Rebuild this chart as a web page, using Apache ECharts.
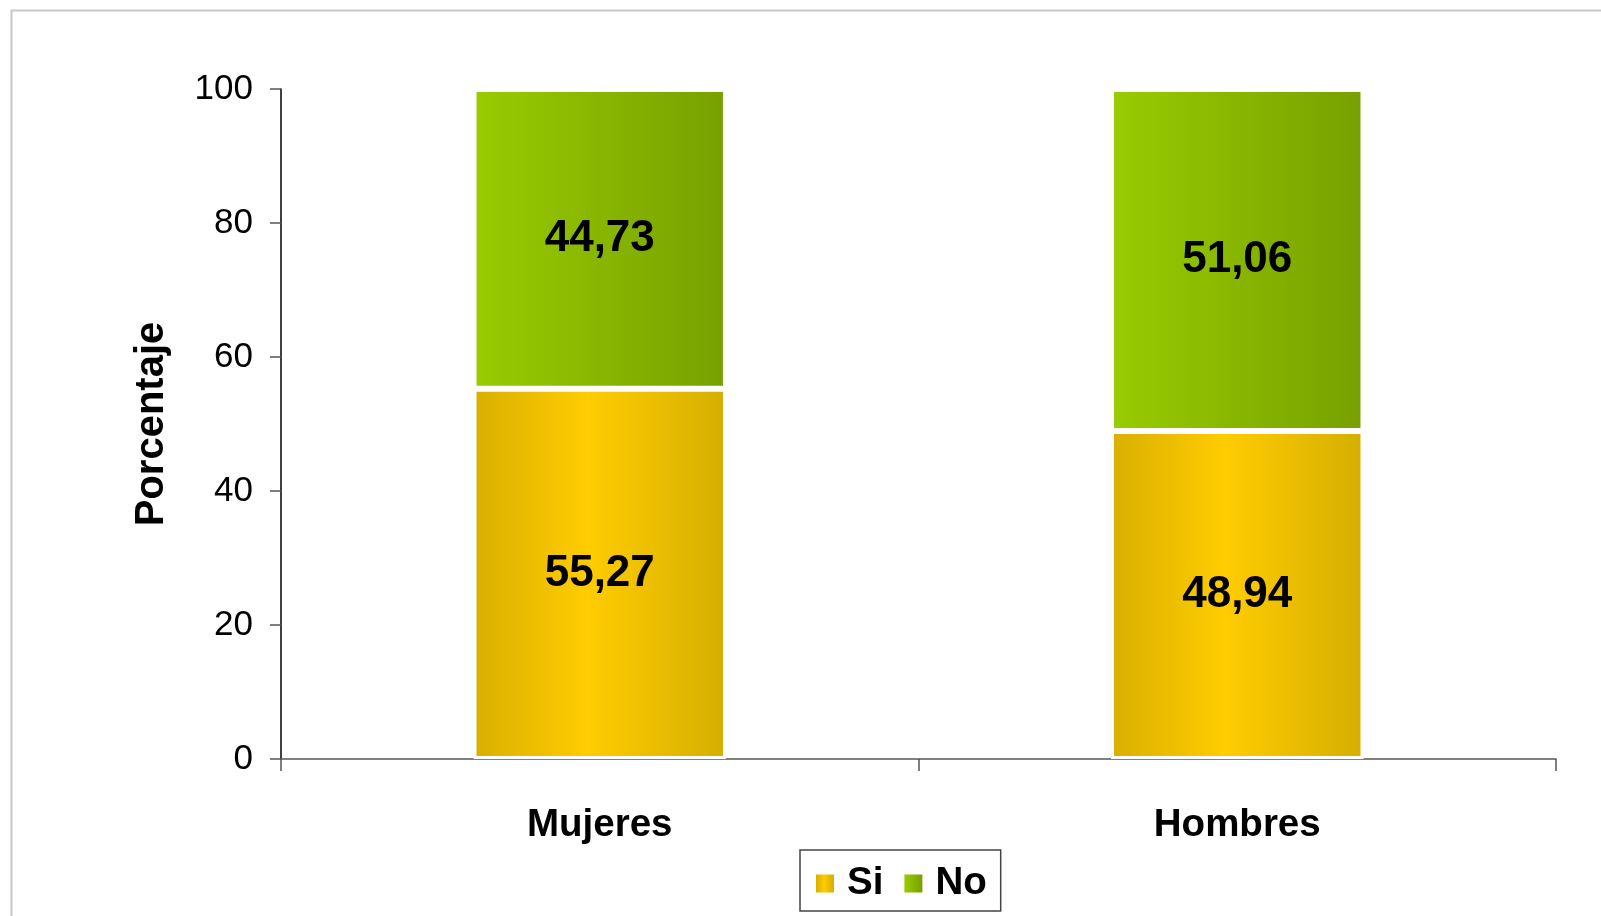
<!DOCTYPE html>
<html><head><meta charset="utf-8">
<script src="https://cdn.jsdelivr.net/npm/echarts@6/dist/echarts.min.js"></script>
<style>html,body{margin:0;padding:0;background:#fff}#c{width:1601px;height:916px}</style>
</head><body><div id="c"></div>
<script>
const categories = ['Mujeres', 'Hombres'];
const siValues = [55.27, 48.94];
const noValues = [44.73, 51.06];
const seriesNames = ['Si', 'No'];
const yTicks = [0, 20, 40, 60, 80, 100];

const FONT = '"Liberation Sans", Arial, sans-serif';
const yellow = new echarts.graphic.LinearGradient(0, 0, 1, 0, [
  {offset: 0, color: '#D9AF00'}, {offset: 0.45, color: '#FFCC00'}, {offset: 1, color: '#D4AE00'}]);
const green = new echarts.graphic.LinearGradient(0, 0, 1, 0, [
  {offset: 0, color: '#99CC00'}, {offset: 1, color: '#77A000'}]);
const fmt = p => p.value.toFixed(2).replace('.', ',');
const labelStyle = {show: true, position: 'inside', formatter: fmt, fontFamily: FONT,
  fontWeight: 'bold', fontSize: 44, color: '#000'};

const chart = echarts.init(document.getElementById('c'), null, {renderer: 'canvas'});
chart.setOption({
  animation: false,
  backgroundColor: '#fff',
  graphic: [{type: 'rect', shape: {x: 11.5, y: 10.5, width: 1700, height: 1000},
    style: {fill: 'none', stroke: '#C8C8C8', lineWidth: 2}, silent: true, z: -1}],
  grid: {left: 281, right: 45, top: 89, bottom: 157},
  legend: {
    data: seriesNames, left: 800, top: 850, width: 204, height: 60,
    padding: [14, 14, 8, 16], itemGap: 21, itemWidth: 18, itemHeight: 18,
    borderColor: '#444', borderWidth: 1.5, backgroundColor: '#fff',
    icon: 'rect',
    itemStyle: {borderWidth: 0},
    textStyle: {fontFamily: FONT, fontWeight: 'bold', fontSize: 38.5, color: '#000', padding: [8, 0, 0, 8]}
  },
  xAxis: {
    type: 'category', data: categories,
    axisLine: {lineStyle: {color: '#555', width: 1.5}},
    axisTick: {show: true, length: 12, lineStyle: {color: '#555', width: 1.5}},
    axisLabel: {margin: 47, fontFamily: FONT, fontWeight: 'bold', fontSize: 38.5, color: '#000'}
  },
  yAxis: {
    type: 'value', min: 0, max: 100, interval: 20,
    name: 'Porcentaje', nameLocation: 'middle', nameGap: 109, nameRotate: 90,
    nameTextStyle: {fontFamily: FONT, fontWeight: 'bold', fontSize: 40, color: '#000'},
    axisLine: {show: true, lineStyle: {color: '#000', width: 1.5}},
    axisTick: {show: true, length: 11, lineStyle: {color: '#555', width: 1.5}},
    splitLine: {show: false},
    axisLabel: {margin: 28, fontFamily: FONT, fontSize: 35, color: '#000',
      formatter: v => yTicks.includes(v) ? String(v) : ''}
  },
  series: [
    {name: seriesNames[0], type: 'bar', stack: 't', data: siValues, barWidth: '39.6%',
     itemStyle: {color: yellow, borderColor: '#fff', borderWidth: 3}, label: labelStyle},
    {name: seriesNames[1], type: 'bar', stack: 't', data: noValues, barWidth: '39.6%',
     itemStyle: {color: green, borderColor: '#fff', borderWidth: 3}, label: labelStyle}
  ]
});
</script></body></html>
